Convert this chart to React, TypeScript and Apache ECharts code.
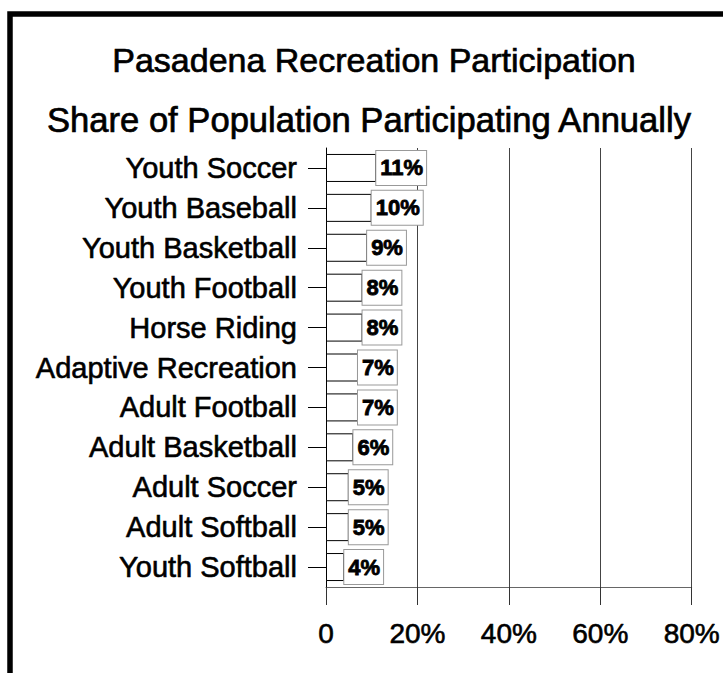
import React, { useEffect, useRef } from "react";
import * as echarts from "echarts";

const categories = [
  "Youth Soccer",
  "Youth Baseball",
  "Youth Basketball",
  "Youth Football",
  "Horse Riding",
  "Adaptive Recreation",
  "Adult Football",
  "Adult Basketball",
  "Adult Soccer",
  "Adult Softball",
  "Youth Softball",
];
const shares = [11, 10, 9, 8, 8, 7, 7, 6, 5, 5, 4];
const xTicks = [0, 20, 40, 60, 80];
const titleLines = [
  "Pasadena Recreation Participation",
  "Share of Population Participating Annually",
];

const FONT = "'Liberation Sans', Arial, Helvetica, sans-serif";
const HEAVY = { textBorderColor: "#000", textBorderWidth: 0.6 };

export default function App() {
  const ref = useRef<HTMLDivElement>(null);
  useEffect(() => {
    if (!ref.current) return;
    const chart = echarts.init(ref.current, null, { renderer: "svg" });
    chart.setOption({
      animation: false,
      backgroundColor: "#fff",
      textStyle: { fontFamily: FONT },
      graphic: [
        {
          type: "rect",
          shape: { x: 10, y: 14, width: 900, height: 900 },
          style: { fill: "none", stroke: "#000", lineWidth: 5.5 },
          silent: true,
        },
        {
          type: "text",
          x: 374,
          y: 60,
          style: {
            text: titleLines[0],
            fontSize: 34,
            fontFamily: FONT,
            fill: "#000",
            stroke: "#000",
            lineWidth: 0.7,
            textAlign: "center",
            textVerticalAlign: "middle",
          },
        },
        {
          type: "text",
          x: 369,
          y: 120,
          style: {
            text: titleLines[1],
            fontSize: 34.6,
            fontFamily: FONT,
            fill: "#000",
            stroke: "#000",
            lineWidth: 0.7,
            textAlign: "center",
            textVerticalAlign: "middle",
          },
        },
      ],
      grid: { left: 326, right: 26, top: 148, bottom: 86, containLabel: false },
      xAxis: {
        type: "value",
        min: xTicks[0],
        max: xTicks[xTicks.length - 1],
        interval: 20,
        axisLine: { show: true, lineStyle: { color: "#666", width: 1 } },
        axisTick: { show: true, length: 18, lineStyle: { color: "#333" } },
        splitLine: { show: true, lineStyle: { color: "#444", width: 1 } },
        axisLabel: {
          fontSize: 28,
          color: "#000",
          fontFamily: FONT,
          margin: 32,
          ...HEAVY,
          formatter: (v: number) => (v === 0 ? "0" : v + "%"),
        },
      },
      yAxis: {
        type: "category",
        data: categories,
        inverse: true,
        axisLine: { show: true, lineStyle: { color: "#000", width: 1 } },
        axisTick: { show: true, length: 18, alignWithLabel: true, lineStyle: { color: "#000" } },
        axisLabel: { fontSize: 29, color: "#000", fontFamily: FONT, margin: 29, ...HEAVY },
        splitLine: { show: false },
      },
      series: [
        {
          type: "bar",
          data: shares,
          barWidth: 28,
          itemStyle: { color: "#fff", borderColor: "#000", borderWidth: 1 },
          label: {
            show: true,
            position: "right",
            distance: 0,
            formatter: "{c}%",
            fontSize: 22,
            fontWeight: "bold",
            fontFamily: FONT,
            color: "#000",
            textBorderColor: "#000",
            textBorderWidth: 0.8,
            backgroundColor: "#fff",
            borderColor: "#999",
            borderWidth: 1,
            padding: [6, 3, 6, 4],
            lineHeight: 22,
          },
        },
      ],
    });
    return () => chart.dispose();
  }, []);
  return (
    <div
      ref={ref}
      style={{ position: "fixed", left: 0, top: 0, width: 723, height: 673 }}
    />
  );
}
